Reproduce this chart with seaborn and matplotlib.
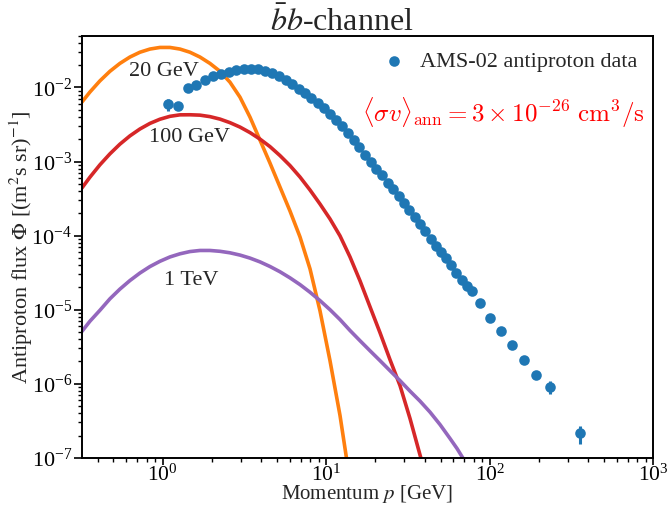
import matplotlib
matplotlib.use("Agg")
import matplotlib.pyplot as plt
import seaborn as sns

# AMS-02 antiproton flux measurements
momentum = [1.08, 1.25, 1.42, 1.61, 1.82, 2.03, 2.28, 2.54, 2.82, 3.13, 3.47, 3.83,
            4.23, 4.66, 5.13, 5.64, 6.19, 6.78, 7.43, 8.12, 8.87, 9.68, 10.55, 11.5,
            12.5, 13.55, 14.7, 15.95, 17.3, 18.75, 20.3, 21.95, 23.75, 25.7, 27.75,
            29.95, 32.3, 34.8, 37.5, 40.4, 43.5, 46.8, 50.35, 54.15, 58.2, 62.55,
            67.25, 72.3, 77.7, 86.75, 100.5, 116.5, 136, 161, 193, 235, 355]
flux = [5.96e-3, 5.60e-3, 9.79e-3, 1.09e-2, 1.27e-2, 1.42e-2, 1.53e-2, 1.63e-2,
        1.71e-2, 1.75e-2, 1.77e-2, 1.75e-2, 1.68e-2, 1.56e-2, 1.42e-2, 1.25e-2,
        1.11e-2, 9.64e-3, 8.38e-3, 7.17e-3, 6.14e-3, 5.26e-3, 4.43e-3, 3.68e-3,
        3.01e-3, 2.42e-3, 1.95e-3, 1.57e-3, 1.22e-3, 9.85e-4, 8.05e-4, 6.58e-4,
        5.21e-4, 4.20e-4, 3.43e-4, 2.76e-4, 2.19e-4, 1.79e-4, 1.44e-4, 1.14e-4,
        9.03e-5, 7.26e-5, 5.94e-5, 4.93e-5, 4.03e-5, 3.10e-5, 2.49e-5, 2.10e-5,
        1.77e-5, 1.24e-5, 7.78e-6, 5.08e-6, 3.37e-6, 2.07e-6, 1.33e-6, 9.05e-7,
        2.13e-7]
flux_err = [1.1e-3, 4.5e-4, 3.5e-4, 3.5e-4, 4.0e-4, 4.0e-4, 4.5e-4, 4.5e-4, 4.5e-4,
            4.5e-4, 4.5e-4, 4.5e-4, 4.2e-4, 3.9e-4, 3.5e-4, 3.1e-4, 2.8e-4, 2.4e-4,
            2.1e-4, 1.8e-4, 1.5e-4, 1.3e-4, 1.1e-4, 9.2e-5, 7.6e-5, 6.1e-5, 4.9e-5,
            3.9e-5, 3.1e-5, 2.5e-5, 2.0e-5, 1.7e-5, 1.4e-5, 1.1e-5, 9.0e-6, 7.3e-6,
            5.9e-6, 4.9e-6, 4.0e-6, 3.3e-6, 2.7e-6, 2.2e-6, 1.9e-6, 1.6e-6, 1.4e-6,
            1.1e-6, 9.5e-7, 8.4e-7, 7.4e-7, 5.5e-7, 4.2e-7, 3.2e-7, 2.6e-7, 2.0e-7,
            1.7e-7, 1.8e-7, 6.0e-8]

# Dark-matter induced antiproton flux, b-bbar channel, three DM masses
p_20gev = [0.3209, 0.3592, 0.4135, 0.4761, 0.5479, 0.631, 0.7263, 0.8363, 0.9627,
           1.108, 1.276, 1.469, 1.691, 1.947, 2.242, 2.58, 2.971, 3.42, 3.937,
           4.532, 5.217, 6.006, 6.916, 7.962, 9.165, 10.55, 12.15, 13.29, 13.79]
phi_20gev = [6.34e-3, 8.67e-3, 1.227e-2, 1.653e-2, 2.112e-2, 2.576e-2, 2.99e-2,
             3.30e-2, 3.47e-2, 3.47e-2, 3.30e-2, 2.99e-2, 2.576e-2, 2.112e-2,
             1.653e-2, 1.179e-2, 7.40e-3, 3.98e-3, 1.949e-3, 9.54e-4, 4.53e-4,
             2.15e-4, 9.60e-5, 3.56e-5, 9.66e-6, 2.05e-6, 3.72e-7, 1.01e-7, 6.75e-8]

p_100gev = [0.3209, 0.3592, 0.4135, 0.4761, 0.5479, 0.631, 0.7263, 0.8363, 0.9627,
            1.108, 1.276, 1.469, 1.691, 1.947, 2.242, 2.58, 2.971, 3.42, 3.937,
            4.532, 5.217, 6.006, 6.916, 7.962, 9.165, 10.55, 12.15, 13.98, 16.10,
            18.53, 21.34, 24.56, 28.28, 32.55, 37.84, 39.65]
phi_100gev = [4.39e-4, 6.14e-4, 9.03e-4, 1.270e-3, 1.716e-3, 2.220e-3, 2.750e-3,
              3.272e-3, 3.726e-3, 4.077e-3, 4.27e-3, 4.28e-3, 4.23e-3, 4.04e-3,
              3.74e-3, 3.35e-3, 2.92e-3, 2.46e-3, 2.01e-3, 1.59e-3, 1.204e-3,
              8.83e-4, 6.18e-4, 4.13e-4, 2.67e-4, 1.68e-4, 9.91e-5, 5.16e-5,
              2.45e-5, 1.094e-5, 4.88e-6, 2.11e-6, 9.43e-7, 3.39e-7, 1.01e-7,
              6.75e-8]

p_1tev = [0.3209, 0.3592, 0.4135, 0.4761, 0.5479, 0.631, 0.7263, 0.8363, 0.9627,
          1.108, 1.276, 1.469, 1.691, 1.947, 2.242, 2.58, 2.971, 3.42, 3.937, 4.532,
          5.217, 6.006, 6.916, 7.962, 9.165, 10.55, 12.15, 13.98, 16.10, 18.53,
          21.34, 24.56, 28.28, 32.55, 37.47, 43.14, 49.66, 57.2, 63.1, 68.2, 73.7]
phi_1tev = [5.08e-6, 6.98e-6, 9.81e-6, 1.402e-5, 1.895e-5, 2.474e-5, 3.124e-5,
            3.82e-5, 4.50e-5, 5.15e-5, 5.68e-5, 6.09e-5, 6.30e-5, 6.30e-5, 6.14e-5,
            5.86e-5, 5.46e-5, 4.97e-5, 4.42e-5, 3.83e-5, 3.25e-5, 2.69e-5, 2.18e-5,
            1.72e-5, 1.326e-5, 1.0e-5, 7.35e-6, 5.24e-6, 3.81e-6, 2.79e-6, 2.05e-6,
            1.50e-6, 1.101e-6, 7.95e-7, 5.83e-7, 4.14e-7, 2.81e-7, 1.82e-7,
            1.334e-7, 1.01e-7, 7.63e-8]

mass_labels = ["20 GeV", "100 GeV", "1 TeV"]
label_pos = [(1.02, 1.66e-2), (1.45, 2.14e-3), (1.49, 2.45e-5)]

c_blue, c_orange, c_red, c_purple = "#1f77b4", "#ff7f0e", "#d62728", "#9467bd"

sns.set_style("ticks")
plt.rcParams.update({
    "font.family": "serif",
    "font.serif": ["Liberation Serif", "DejaVu Serif"],
    "mathtext.fontset": "stix",
    "axes.linewidth": 1.4,
    "xtick.major.width": 1.2, "ytick.major.width": 1.2,
    "xtick.minor.width": 1.0, "ytick.minor.width": 1.0,
    "xtick.major.size": 5.2, "ytick.major.size": 5.5,
    "xtick.minor.size": 3.2, "ytick.minor.size": 3.2,
    "xtick.major.pad": 0.0, "ytick.major.pad": 1.5,
    "xtick.direction": "out", "ytick.direction": "out",
    "xtick.color": "black", "ytick.color": "black",
    "axes.edgecolor": "black",
})

fig = plt.figure(figsize=(6.68, 5.07), dpi=100)
ax = fig.add_axes([0.1223, 0.0970, 0.8557, 0.8326])
ax.set_xscale("log")
ax.set_yscale("log")

for px, py, col in [(p_20gev, phi_20gev, c_orange),
                    (p_100gev, phi_100gev, c_red),
                    (p_1tev, phi_1tev, c_purple)]:
    sns.lineplot(x=px, y=py, ax=ax, color=col, lw=2.6, sort=False,
                 estimator=None, legend=False)

ax.errorbar(momentum, flux, yerr=flux_err, fmt="none", ecolor=c_blue,
            elinewidth=2.2, capsize=0, zorder=3)
sns.scatterplot(x=momentum, y=flux, ax=ax, s=58, color=c_blue, linewidth=0,
                label="AMS-02 antiproton data", zorder=4)

for txt, (lx, ly) in zip(mass_labels, label_pos):
    ax.text(lx, ly, txt, fontsize=16, ha="center", va="center")

ax.text(0.49, 0.8175,
        r"$\langle\sigma v\rangle_{\rm ann} = 3\times10^{-26}\ {\rm cm}^3/{\rm s}$",
        transform=ax.transAxes, color="red", fontsize=18, ha="left",
        va="center", math_fontfamily="cm")

ax.set_xlim(0.32, 1e3)
ax.set_ylim(1e-7, 5e-2)
ax.tick_params(axis="y", labelsize=16)
ax.tick_params(axis="x", labelsize=15.5)
ax.tick_params(which="both", top=False, right=False)
for s in ax.spines.values():
    s.set_visible(True)

ax.set_xlabel(r"Momentum $p$ [GeV]", fontsize=15, labelpad=-2.3)
ax.set_ylabel(r"Antiproton flux $\Phi$ [(m$^2$s sr)$^{-1}$]", fontsize=16,
              labelpad=-2.5)
fig.text(0.512, 0.988, r"$\bar{b}b$-channel", fontsize=23, ha="center",
         va="top")

ax.legend(loc="upper right", frameon=False, fontsize=16, handletextpad=0.2,
          borderaxespad=0.3)

fig.savefig("out.png", dpi=100)
